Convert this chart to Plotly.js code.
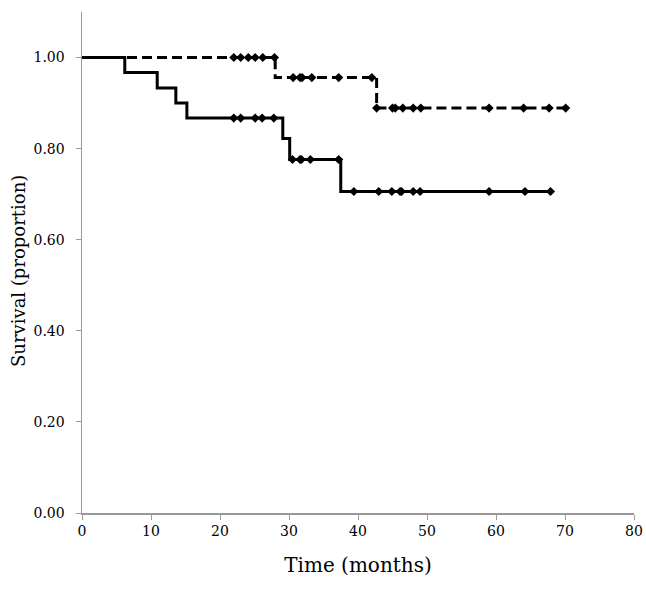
<!DOCTYPE html>
<html>
<head>
<meta charset="utf-8">
<script src="https://cdn.plot.ly/plotly-3.0.1.min.js"></script>
<style>html,body{margin:0;padding:0;background:#fff;}#chart{width:646px;height:590px;}</style>
</head>
<body>
<div id="chart"></div>
<script>
// Solid curve (group A): step events
var solidStepTimes = [0, 6.2, 10.9, 13.6, 15.2, 29.1, 30.1, 37.5, 67.9];
var solidStepSurv  = [1.000, 0.967, 0.933, 0.900, 0.867, 0.822, 0.776, 0.706, 0.706];
// Solid curve censor marks
var solidCensorTimes = [22.0, 23.0, 25.1, 26.1, 27.8, 30.5, 31.6, 31.8, 33.1, 37.2, 39.4, 43.0, 44.9, 46.1, 46.3, 48.0, 49.0, 59.0, 64.2, 67.9];
var solidCensorSurv  = [0.867, 0.867, 0.867, 0.867, 0.867, 0.776, 0.776, 0.776, 0.776, 0.776, 0.706, 0.706, 0.706, 0.706, 0.706, 0.706, 0.706, 0.706, 0.706, 0.706];

// Dashed curve (group B): step events
var dashStepTimes = [0, 28.0, 42.7, 70.1];
var dashStepSurv  = [1.000, 0.956, 0.889, 0.889];
// Dashed curve censor marks
var dashCensorTimes = [22.0, 23.0, 24.1, 25.1, 26.2, 27.9, 30.6, 31.6, 31.9, 33.3, 37.2, 42.0, 42.7, 45.0, 45.4, 46.5, 48.0, 49.1, 59.0, 64.0, 67.7, 70.1];
var dashCensorSurv  = [1.000, 1.000, 1.000, 1.000, 1.000, 1.000, 0.956, 0.956, 0.956, 0.956, 0.956, 0.956, 0.889, 0.889, 0.889, 0.889, 0.889, 0.889, 0.889, 0.889, 0.889, 0.889];

var xTicks = [0, 10, 20, 30, 40, 50, 60, 70, 80];
var yTicks = [0, 0.2, 0.4, 0.6, 0.8, 1.0];
var yTickLabels = ['0.00', '0.20', '0.40', '0.60', '0.80', '1.00'];
var xTitle = 'Time (months)';
var yTitle = 'Survival (proportion)';

var fontFam = 'DejaVu Serif, Liberation Serif, serif';

var traces = [
  {x: dashStepTimes, y: dashStepSurv, mode: 'lines', line: {shape: 'hv', color: '#000', width: 3, dash: '10px,5px'}, hoverinfo: 'skip'},
  {x: dashCensorTimes, y: dashCensorSurv, mode: 'markers', marker: {symbol: 'diamond', size: 7, color: '#000'}},
  {x: solidStepTimes, y: solidStepSurv, mode: 'lines', line: {shape: 'hv', color: '#000', width: 3}, hoverinfo: 'skip'},
  {x: solidCensorTimes, y: solidCensorSurv, mode: 'markers', marker: {symbol: 'diamond', size: 7, color: '#000'}}
];

var layout = {
  width: 646, height: 590,
  margin: {l: 82, r: 12, t: 12, b: 77},
  paper_bgcolor: '#fff', plot_bgcolor: '#fff',
  showlegend: false,
  font: {family: fontFam, color: '#000', size: 14},
  xaxis: {
    range: [0, 80], tickvals: xTicks, ticktext: xTicks.map(String),
    showgrid: false, zeroline: false, showline: true, linecolor: '#999', linewidth: 1.5,
    ticks: 'outside', ticklen: 5, tickcolor: '#999',
    tickfont: {family: fontFam, size: 14, color: '#000'},
    title: {text: xTitle, font: {family: fontFam, size: 20, color: '#000'}, standoff: 19}
  },
  yaxis: {
    range: [0, 1.1], tickvals: yTicks, ticktext: yTickLabels,
    showgrid: false, zeroline: false, showline: true, linecolor: '#999', linewidth: 1.5,
    ticks: 'outside', ticklen: 5, tickcolor: '#999', ticklabelstandoff: 8,
    tickfont: {family: fontFam, size: 14, color: '#000'}
  },
  annotations: [{
    text: yTitle, textangle: -90, showarrow: false,
    xref: 'paper', yref: 'paper', x: -0.116, y: 0.483, xanchor: 'center', yanchor: 'middle',
    font: {family: fontFam, size: 18, color: '#000'}
  }]
};

Plotly.newPlot('chart', traces, layout, {displayModeBar: false, staticPlot: true});
</script>
</body>
</html>
